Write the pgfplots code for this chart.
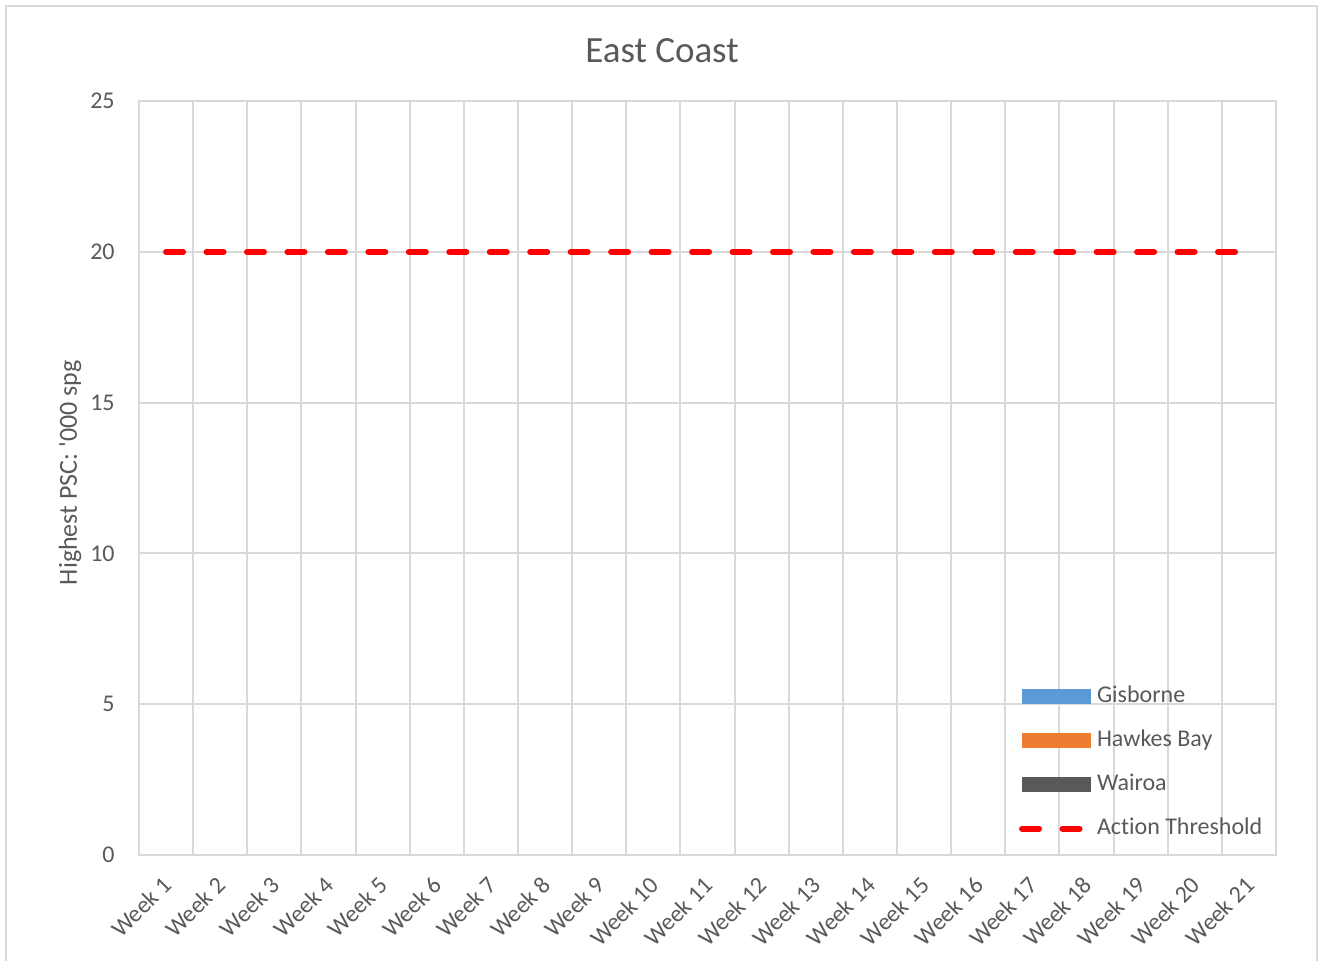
\documentclass[border=0pt]{standalone}
\usepackage{fontspec}
\setmainfont{Carlito}[Ligatures={TeXOff,CommonOff}]
\usepackage{pgfplots}
\pgfplotsset{compat=1.18}

\definecolor{gridgray}{HTML}{D9D9D9}
\definecolor{txtgray}{HTML}{595959}
\definecolor{gisb}{HTML}{5B9BD5}
\definecolor{hawkes}{HTML}{ED7D31}
\definecolor{wairoa}{HTML}{595959}
\definecolor{thr}{HTML}{FF0000}

\tikzset{threshold/.style={thr, line width=3bp, line cap=round, dash pattern=on 8.5bp off 11.73bp}}

\begin{document}
\begin{tikzpicture}
\begin{axis}[
    name=ax,
    at={(0,0)}, anchor=south west,
    scale only axis,
    width=568.5bp, height=377bp,
    xmin=0.5, xmax=21.5, ymin=0, ymax=25,
    xtick={1,...,21},
    xticklabels={Week 1,Week 2,Week 3,Week 4,Week 5,Week 6,Week 7,Week 8,Week 9,Week 10,Week 11,Week 12,Week 13,Week 14,Week 15,Week 16,Week 17,Week 18,Week 19,Week 20,Week 21},
    minor xtick={1.5,2.5,...,20.5},
    ytick={0,5,...,25},
    xminorgrids, ymajorgrids,
    grid style={gridgray, line width=1bp},
    minor grid style={gridgray, line width=1bp},
    axis line style={gridgray, line width=1bp},
    major tick length=0pt, minor tick length=0pt,
    /pgf/number format/assume math mode=true,
    tick label style={font=\fontsize{12bp}{14bp}\selectfont, text=txtgray},
    y tick label style={anchor=east, inner sep=0pt, xshift=-12bp},
    x tick label style={xshift=-2.5bp, yshift=-10bp, rotate=45, anchor=north east, inner sep=0pt},
    ylabel={Highest PSC: '000 spg},
    ylabel style={at={(axis description cs:-0.0607,0.507)}, anchor=center,
        font=\fontsize{13bp}{15bp}\selectfont, text=txtgray},
    title={East Coast},
    title style={at={(axis description cs:0.46,1)}, anchor=center, yshift=19bp,
        font=\fontsize{18.5bp}{22bp}\selectfont, text=txtgray},
    legend cell align=left,
    legend style={draw=none, fill=none,
        at={(axis description cs:0.774,0.226)}, anchor=north west,
        inner sep=0pt, outer sep=0pt, row sep=10bp,
        font=\fontsize{12bp}{14bp}\selectfont, text=txtgray,
        nodes={inner sep=0pt, text height=9bp, text depth=3bp},
        /tikz/every odd column/.style={column sep=2bp}},
]
% series with no values in the period
\addlegendimage{legend image code/.code={\fill[gisb] (0bp,-3.5bp) rectangle (34bp,3.5bp);}}
\addlegendentry{Gisborne}
\addlegendimage{legend image code/.code={\fill[hawkes] (0bp,-3.5bp) rectangle (34bp,3.5bp);}}
\addlegendentry{Hawkes Bay}
\addlegendimage{legend image code/.code={\fill[wairoa] (0bp,-3.5bp) rectangle (34bp,3.5bp);}}
\addlegendentry{Wairoa}

\addplot[threshold,
    legend image code/.code={\draw[threshold] (0bp,0bp) -- (34bp,0bp);}]
    coordinates {(1,20)(2,20)(3,20)(4,20)(5,20)(6,20)(7,20)(8,20)(9,20)(10,20)(11,20)
                 (12,20)(13,20)(14,20)(15,20)(16,20)(17,20)(18,20)(19,20)(20,20)(21,20)};
\addlegendentry{Action Threshold}
\end{axis}
\draw[gridgray, line width=1bp]
    ([shift={(-66.7bp,-80bp)}]ax.south west) -- ([shift={(-66.7bp,424.6bp)}]ax.south west)
    -- ([shift={(589bp,424.6bp)}]ax.south west) -- ([shift={(589bp,-80bp)}]ax.south west);
\pgfresetboundingbox
\path[use as bounding box] ([shift={(-69.5bp,-53bp)}]ax.south west) rectangle ([shift={(591.5bp,427.5bp)}]ax.south west);
\end{tikzpicture}
\end{document}
